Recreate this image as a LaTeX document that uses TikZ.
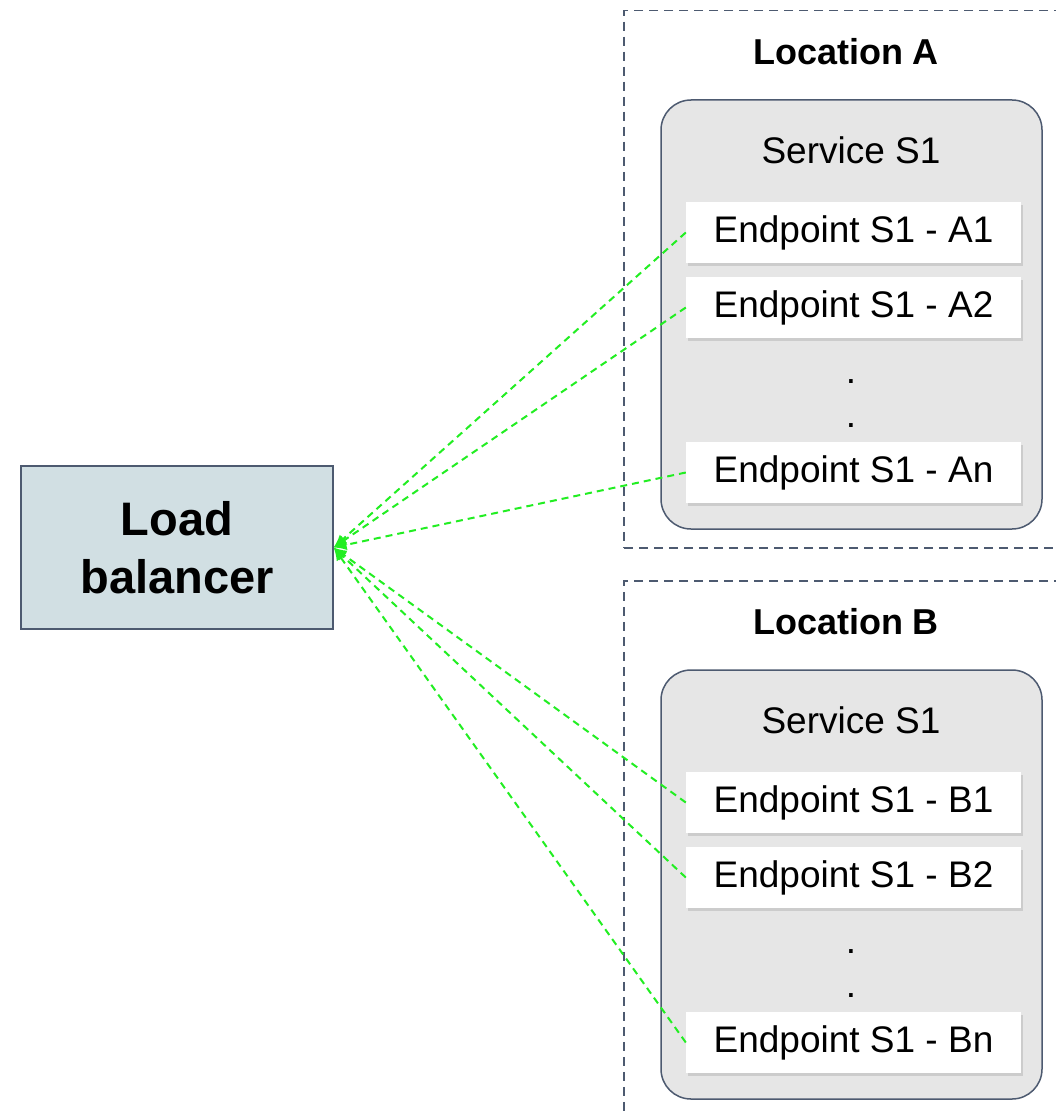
\documentclass[tikz,border=0pt]{standalone}
\usepackage{fontspec}
\setmainfont{Liberation Sans}
\usepackage{xcolor}
\usetikzlibrary{shadows,arrows.meta}

\definecolor{ardoise}{HTML}{4D5A70}
\definecolor{bleugris}{HTML}{D1DFE3}
\definecolor{grisclair}{HTML}{E6E6E6}
\definecolor{vertvif}{HTML}{22EE22}

\begin{document}
\begin{tikzpicture}[x=1pt,y=-1pt]
% Styles (MODIFIABLES)
\tikzstyle{fleche}=[-{Latex[length=13pt,width=11pt]},vertvif,line width=2pt,dash pattern=on 7pt off 5pt]
\tikzstyle{equilibreur}=[draw=ardoise,line width=1.2pt,fill=bleugris,minimum width=312pt,minimum height=163pt,align=center,font=\fontsize{47}{58}\selectfont\bfseries]
\tikzstyle{site}=[draw=ardoise,line width=1.5pt,dash pattern=on 9pt off 6pt,minimum width=446pt,minimum height=537pt,anchor=north]
\tikzstyle{titre}=[font=\fontsize{36}{42}\selectfont\bfseries]
\tikzstyle{service}=[draw=ardoise,line width=1.5pt,fill=grisclair,rounded corners=30pt,minimum width=381pt,minimum height=429pt]
\tikzstyle{extremite}=[fill=white,minimum width=335pt,minimum height=61pt,font=\fontsize{37}{44}\selectfont,drop shadow={shadow xshift=2pt,shadow yshift=-3pt,opacity=0.25}]
\tikzstyle{texte}=[font=\fontsize{37}{44}\selectfont]
% Dimensions (MODIFIABLES)
\def\DecalageB{570}
\clip (0,0) rectangle (1056,1113);
\fill[white] (0,0) rectangle (1056,1113);
% Noeuds
\node[equilibreur] (LB) at (177,547.5) {Load\\balancer};
\foreach \loc/\dy in {A/0,B/\DecalageB}{
  \node[site] (Loc\loc) at (847,{10+\dy}) {};
  \node[titre] (Titre\loc) at (846,{52+\dy}) {Location \loc};
  \node[service] (Serv\loc) at (851.5,{314.5+\dy}) {};
  \node[texte] (Nom\loc) at (851,{150+\dy}) {Service S1};
  \node[extremite] (\loc1) at (853.5,{232.5+\dy}) {Endpoint S1 - \loc1};
  \node[extremite] (\loc2) at (853.5,{307.5+\dy}) {Endpoint S1 - \loc2};
  \node[extremite] (\loc n) at (853.5,{472.5+\dy}) {Endpoint S1 - \loc n};
  \node[texte] (PointA\loc) at (851,{382+\dy}) {.};
  \node[texte] (PointB\loc) at (851,{426+\dy}) {.};
}
% Arcs
\foreach \e in {A1,A2,An,B1,B2,Bn}
  \draw[fleche] (\e.west) -- (LB.east);
\end{tikzpicture}
\end{document}
